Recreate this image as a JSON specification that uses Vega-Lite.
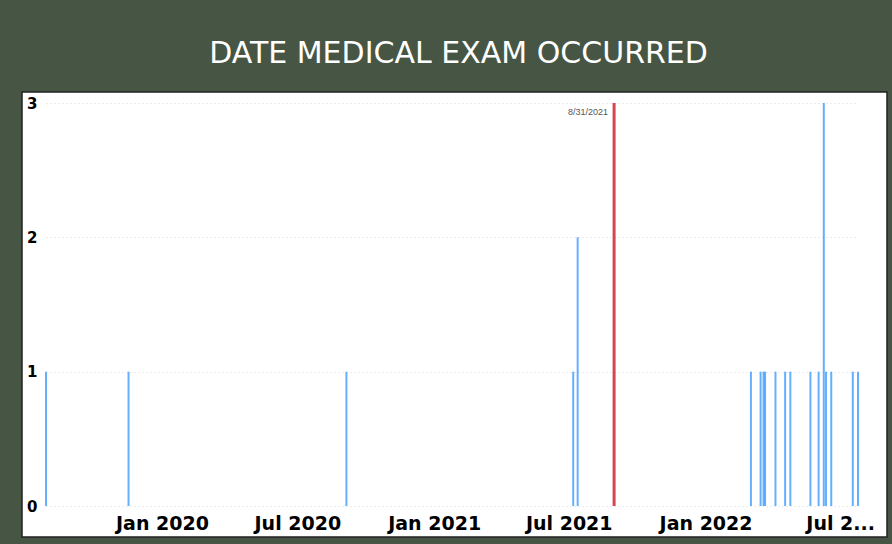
{
  "$schema": "https://vega.github.io/schema/vega-lite/v6.json",
  "width": 865,
  "height": 445,
  "autosize": {"type": "none"},
  "padding": {"left": 22, "top": 92, "right": 5, "bottom": 7},
  "background": "#475644",
  "title": {
    "text": "DATE MEDICAL EXAM OCCURRED",
    "font": "DejaVu Sans",
    "fontSize": 30,
    "fontWeight": "normal",
    "color": "#ffffff",
    "anchor": "middle",
    "baseline": "alphabetic",
    "offset": 27,
    "dy": 28,
    "dx": 4
  },
  "config": {"view": {"fill": "#ffffff", "stroke": "#222222", "strokeWidth": 1.5}},
  "layer": [
    {
      "data": {
        "values": [
          {"date": "2019-07-29", "count": 1},
          {"date": "2019-11-17", "count": 1},
          {"date": "2020-09-05", "count": 1},
          {"date": "2021-07-07", "count": 1},
          {"date": "2021-07-13", "count": 2},
          {"date": "2022-03-03", "count": 1},
          {"date": "2022-03-16", "count": 1},
          {"date": "2022-03-20", "count": 1},
          {"date": "2022-03-22", "count": 1},
          {"date": "2022-04-05", "count": 1},
          {"date": "2022-04-18", "count": 1},
          {"date": "2022-04-25", "count": 1},
          {"date": "2022-05-22", "count": 1},
          {"date": "2022-06-02", "count": 1},
          {"date": "2022-06-09", "count": 3},
          {"date": "2022-06-12", "count": 1},
          {"date": "2022-06-19", "count": 1},
          {"date": "2022-07-18", "count": 1},
          {"date": "2022-07-25", "count": 1}
        ]
      },
      "mark": {"type": "bar", "width": 2, "color": "#3d9cff", "opacity": 0.8},
      "encoding": {
        "x": {
          "field": "date",
          "type": "temporal",
          "scale": {
            "type": "utc",
            "domain": [
              {"year": 2019, "month": 7, "date": 29, "utc": true},
              {"year": 2022, "month": 7, "date": 25, "utc": true}
            ],
            "range": [24, 836],
            "padding": 0,
            "nice": false
          },
          "axis": {
            "title": null,
            "orient": "bottom",
            "offset": -25,
            "domain": false,
            "ticks": false,
            "grid": false,
            "tickCount": {"interval": "month", "step": 6},
            "format": "%b %Y",
            "labelFont": "DejaVu Sans",
            "labelFontWeight": "bold",
            "labelFontSize": 19,
            "labelColor": "#000000",
            "labelPadding": 2,
            "labelOverlap": false,
            "labelBound": false,
            "labelExpr": "datum.label == 'Jul 2022' ? 'Jul 2...' : datum.label"
          }
        },
        "y": {
          "field": "count",
          "type": "quantitative",
          "scale": {"domain": [0, 3], "range": [414, 11], "nice": false},
          "axis": {
            "title": null,
            "values": [0, 1, 2, 3],
            "offset": -17,
            "domain": false,
            "ticks": false,
            "grid": true,
            "gridColor": "#d9d9d9",
            "gridDash": [1, 3],
            "labelFont": "DejaVu Sans",
            "labelFontWeight": "bold",
            "labelFontSize": 15,
            "labelColor": "#000000",
            "labelPadding": 2,
            "format": "d"
          }
        }
      }
    },
    {
      "data": {"values": [{"date": "2021-08-31", "label": "8/31/2021"}]},
      "mark": {"type": "rule", "color": "#d64550", "strokeWidth": 3},
      "encoding": {
        "x": {"field": "date", "type": "temporal"},
        "y": {"datum": 3},
        "y2": {"datum": 0}
      }
    },
    {
      "data": {"values": [{"date": "2021-08-31", "label": "8/31/2021"}]},
      "mark": {"type": "text", "align": "right", "baseline": "middle", "dx": -6, "dy": 9, "font": "Liberation Sans", "fontSize": 9, "color": "#555555"},
      "encoding": {
        "x": {"field": "date", "type": "temporal"},
        "y": {"datum": 3},
        "text": {"field": "label"}
      }
    }
  ]
}
